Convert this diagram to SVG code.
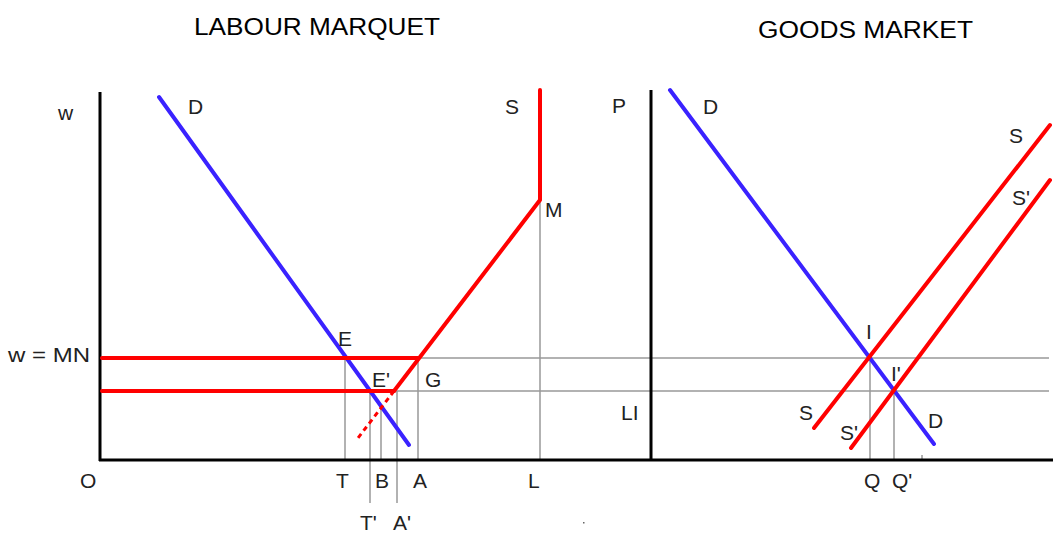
<svg xmlns="http://www.w3.org/2000/svg" width="1053" height="535" viewBox="0 0 1053 535">
<style>
.t{font-family:"Liberation Sans",Arial,sans-serif;font-size:21px;fill:#222}
.ttl{font-family:"Liberation Sans",Arial,sans-serif;font-size:23px;fill:#000}
.ax{stroke:#000;stroke-width:3;fill:none}
.g{stroke:#999;stroke-width:1.5;fill:none}
.r{stroke:#ff0000;stroke-width:4;fill:none;stroke-linecap:round;stroke-linejoin:round}
.b{stroke:#3a22ff;stroke-width:4;fill:none;stroke-linecap:round}
.dash{stroke:#ff0000;stroke-width:3;fill:none;stroke-linecap:butt;stroke-dasharray:5 4}
</style>
<rect width="1053" height="535" fill="#fff"/>
<g id="titles">
<text class="ttl" x="194" y="35" textLength="246" lengthAdjust="spacingAndGlyphs">LABOUR MARQUET</text>
<text class="ttl" x="758" y="38" textLength="215" lengthAdjust="spacingAndGlyphs">GOODS MARKET</text>
</g>
<g id="guides">
<line class="g" x1="418" y1="358" x2="1049" y2="358"/>
<line class="g" x1="395" y1="391" x2="1049" y2="391"/>
<line class="g" x1="345" y1="358" x2="345" y2="460"/>
<line class="g" x1="370" y1="391" x2="370" y2="503"/>
<line class="g" x1="381" y1="406" x2="381" y2="460"/>
<line class="g" x1="397" y1="391" x2="397" y2="503"/>
<line class="g" x1="418" y1="358" x2="418" y2="460"/>
<line class="g" x1="540" y1="200" x2="540" y2="460"/>
<line class="g" x1="870" y1="358" x2="870" y2="460"/>
<line class="g" x1="894" y1="391" x2="894" y2="460"/>
<line class="g" x1="922" y1="455" x2="922" y2="460"/>
</g>
<g id="axes">
<line class="ax" x1="100" y1="92" x2="100" y2="461"/>
<line class="ax" x1="99" y1="460" x2="1053" y2="460"/>
<line class="ax" x1="651" y1="90" x2="651" y2="460"/>
</g>
<g id="labour-curves">
<line class="b" x1="159" y1="97" x2="409" y2="445"/>
<line class="r" x1="102" y1="358" x2="418" y2="358"/>
<line class="r" x1="102" y1="391" x2="394" y2="391"/>
<polyline class="r" points="394,391 540,200 540,90"/>
<line class="dash" x1="394" y1="391" x2="358" y2="438"/>
</g>
<g id="goods-curves">
<line class="b" x1="670" y1="90" x2="934" y2="444"/>
<line class="r" x1="814" y1="428" x2="1050" y2="125"/>
<line class="r" x1="851" y1="448" x2="1050" y2="180"/>
</g>
<g id="labels">
<text class="t" x="58" y="120">w</text>
<text class="t" x="188" y="114">D</text>
<text class="t" x="505" y="114">S</text>
<text class="t" x="612" y="113">P</text>
<text class="t" x="703" y="114">D</text>
<text class="t" x="545" y="217">M</text>
<text class="t" x="1009" y="143">S</text>
<text class="t" x="1012" y="205">S'</text>
<text class="t" x="338" y="346">E</text>
<text class="t" x="8" y="362" textLength="82" lengthAdjust="spacingAndGlyphs">w = MN</text>
<text class="t" x="866" y="339">I</text>
<text class="t" x="372" y="387">E'</text>
<text class="t" x="425" y="387">G</text>
<text class="t" x="891" y="381">I'</text>
<text class="t" x="621" y="420">LI</text>
<text class="t" x="799" y="420">S</text>
<text class="t" x="928" y="428">D</text>
<text class="t" x="840" y="440">S'</text>
<text class="t" x="80" y="488">O</text>
<text class="t" x="336" y="488">T</text>
<text class="t" x="375" y="488">B</text>
<text class="t" x="413" y="488">A</text>
<text class="t" x="528" y="488">L</text>
<text class="t" x="864" y="488">Q</text>
<text class="t" x="892" y="488">Q'</text>
<text class="t" x="360" y="530">T'</text>
<text class="t" x="393" y="530">A'</text>
</g>
<rect x="583" y="522" width="1.5" height="1.5" fill="#666"/>
</svg>
